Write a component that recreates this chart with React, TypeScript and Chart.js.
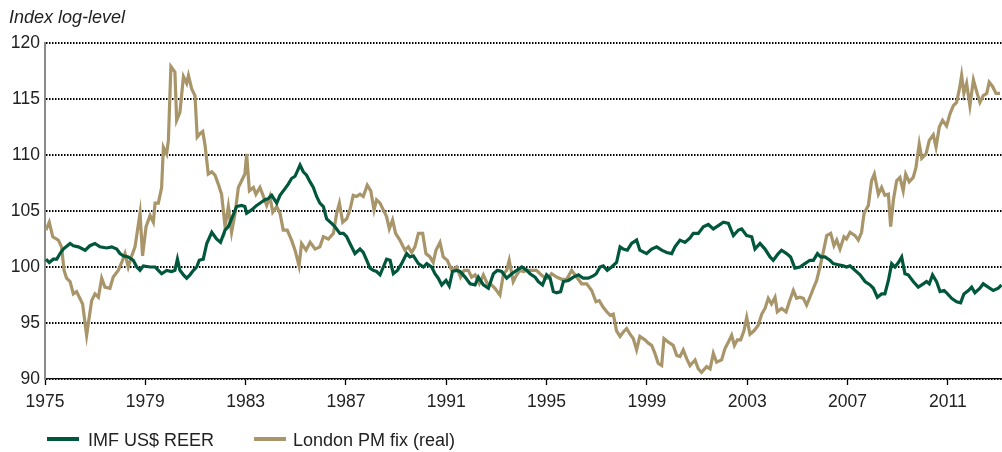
import React, { useEffect, useRef } from "react";
import { Chart, registerables } from "chart.js";

Chart.register(...registerables);

const X_TICKS = [1975, 1979, 1983, 1987, 1991, 1995, 1999, 2003, 2007, 2011];
const X_MIN = 1975;
const X_MAX = 2013.16;
const Y_MIN = 90;
const Y_MAX = 120;
const Y_STEP = 5;

const LABEL_REER = "IMF US$ REER";
const LABEL_GOLD = "London PM fix (real)";
const AXIS_TITLE = "Index log-level";

// [decimal year, index log-level]
const REER: [number, number][] = [
  [1975.04, 100.7], [1975.17, 100.4], [1975.33, 100.7], [1975.47, 100.7], [1975.6, 101.2], [1975.73, 101.6],
  [1976.0, 102.1], [1976.13, 101.9], [1976.33, 101.8], [1976.6, 101.5], [1976.79, 101.9], [1976.99, 102.1],
  [1977.19, 101.8], [1977.46, 101.7], [1977.66, 101.8], [1977.86, 101.6], [1977.99, 101.2], [1978.12, 101.0],
  [1978.32, 100.9], [1978.52, 100.6], [1978.66, 100.0], [1978.79, 99.7], [1978.92, 100.1], [1979.19, 100.0],
  [1979.39, 100.0], [1979.52, 99.7], [1979.65, 99.4], [1979.85, 99.7], [1980.05, 99.6], [1980.18, 99.7],
  [1980.28, 100.7], [1980.38, 99.7], [1980.52, 99.3], [1980.65, 99.0], [1980.78, 99.3], [1980.92, 99.7],
  [1981.05, 100.0], [1981.15, 100.6], [1981.31, 100.7], [1981.45, 102.1], [1981.65, 103.1], [1981.84, 102.5],
  [1982.0, 102.2], [1982.18, 103.3], [1982.31, 103.6], [1982.44, 104.3], [1982.64, 105.4], [1982.84, 105.5],
  [1982.97, 105.4], [1983.04, 104.8], [1983.24, 105.1], [1983.44, 105.5], [1983.64, 105.8], [1983.77, 106.0],
  [1983.9, 106.1], [1984.04, 106.4], [1984.24, 105.7], [1984.37, 106.4], [1984.57, 107.0], [1984.7, 107.4],
  [1984.83, 107.9], [1984.97, 108.1], [1985.17, 109.1], [1985.3, 108.5], [1985.43, 108.2], [1985.57, 107.6],
  [1985.7, 107.1], [1985.83, 106.3], [1985.96, 105.7], [1986.1, 105.4], [1986.23, 104.3], [1986.43, 103.9],
  [1986.56, 103.6], [1986.76, 103.0], [1986.9, 103.0], [1987.03, 102.7], [1987.16, 102.1], [1987.36, 101.2],
  [1987.56, 101.6], [1987.69, 101.3], [1987.83, 100.6], [1987.96, 99.9], [1988.09, 99.7], [1988.22, 99.6],
  [1988.36, 99.3], [1988.49, 100.0], [1988.62, 100.7], [1988.76, 100.6], [1988.89, 99.4], [1989.05, 99.7],
  [1989.22, 100.3], [1989.42, 101.2], [1989.55, 100.9], [1989.69, 101.0], [1989.89, 100.3], [1990.09, 100.0],
  [1990.22, 100.3], [1990.42, 100.0], [1990.55, 99.4], [1990.68, 99.0], [1990.82, 98.4], [1990.99, 98.8],
  [1991.12, 98.3], [1991.25, 99.6], [1991.41, 99.7], [1991.55, 99.6], [1991.75, 99.1], [1991.95, 98.5],
  [1992.15, 98.4], [1992.28, 99.1], [1992.48, 98.4], [1992.68, 98.1], [1992.88, 99.4], [1993.04, 99.7],
  [1993.21, 99.6], [1993.41, 99.0], [1993.61, 99.4], [1993.81, 99.7], [1994.01, 100.0], [1994.21, 99.7],
  [1994.34, 99.4], [1994.54, 99.1], [1994.67, 98.7], [1994.84, 98.4], [1995.0, 99.3], [1995.14, 99.0],
  [1995.27, 97.8], [1995.4, 97.7], [1995.56, 97.8], [1995.67, 98.7], [1995.87, 98.8], [1996.07, 99.1],
  [1996.27, 99.3], [1996.46, 99.0], [1996.66, 99.0], [1996.86, 99.2], [1996.98, 99.4], [1997.13, 100.0],
  [1997.26, 100.1], [1997.42, 99.7], [1997.59, 100.0], [1997.79, 100.4], [1997.93, 101.8], [1998.06, 101.6],
  [1998.22, 101.5], [1998.39, 102.1], [1998.59, 102.4], [1998.72, 101.5], [1998.99, 101.2], [1999.19, 101.6],
  [1999.39, 101.8], [1999.59, 101.5], [1999.79, 101.3], [1999.99, 101.2], [2000.12, 101.8], [2000.32, 102.4],
  [2000.52, 102.2], [2000.72, 102.6], [2000.85, 103.0], [2001.05, 103.0], [2001.25, 103.6], [2001.45, 103.8],
  [2001.65, 103.4], [2001.85, 103.7], [2002.05, 104.0], [2002.25, 103.9], [2002.45, 102.8], [2002.65, 103.3],
  [2002.78, 103.4], [2002.98, 102.8], [2003.18, 102.7], [2003.31, 101.6], [2003.51, 102.1], [2003.71, 101.6],
  [2003.91, 100.9], [2004.04, 100.6], [2004.24, 101.2], [2004.37, 101.5], [2004.57, 101.2], [2004.73, 100.9],
  [2004.9, 99.9], [2005.1, 100.0], [2005.3, 100.3], [2005.5, 100.6], [2005.64, 100.6], [2005.8, 101.2],
  [2005.93, 100.9], [2006.1, 100.9], [2006.3, 100.6], [2006.43, 100.3], [2006.63, 100.2], [2006.83, 100.1],
  [2006.96, 100.0], [2007.1, 100.1], [2007.3, 99.7], [2007.5, 99.3], [2007.7, 98.7], [2007.9, 98.4],
  [2008.03, 98.1], [2008.19, 97.3], [2008.36, 97.6], [2008.49, 97.6], [2008.63, 98.8], [2008.76, 100.3],
  [2008.89, 100.0], [2009.03, 100.4], [2009.16, 100.9], [2009.29, 99.4], [2009.42, 99.3], [2009.62, 98.7],
  [2009.82, 98.2], [2010.02, 98.5], [2010.15, 98.7], [2010.26, 98.5], [2010.39, 99.3], [2010.55, 98.7],
  [2010.69, 97.8], [2010.85, 97.9], [2010.95, 97.7], [2011.15, 97.2], [2011.35, 96.9], [2011.51, 96.8],
  [2011.64, 97.6], [2011.82, 97.9], [2011.95, 98.2], [2012.08, 97.7], [2012.28, 98.1], [2012.41, 98.5],
  [2012.61, 98.2], [2012.81, 97.9], [2013.01, 98.1], [2013.14, 98.4],
];

// [decimal year, index log-level]
const GOLD_REAL: [number, number][] = [
  [1975.04, 103.3], [1975.17, 104.0], [1975.31, 102.7], [1975.53, 102.4], [1975.66, 101.8], [1975.76, 99.7],
  [1975.86, 99.0], [1976.0, 98.7], [1976.13, 97.6], [1976.26, 97.8], [1976.5, 96.7], [1976.66, 93.9],
  [1976.86, 97.0], [1976.99, 97.6], [1977.13, 97.3], [1977.26, 99.0], [1977.39, 98.2], [1977.59, 98.1],
  [1977.72, 99.1], [1977.92, 99.7], [1978.06, 100.4], [1978.19, 101.2], [1978.32, 100.0], [1978.46, 101.0],
  [1978.59, 101.8], [1978.79, 104.8], [1978.89, 101.0], [1979.03, 103.6], [1979.19, 104.6], [1979.32, 104.0],
  [1979.39, 105.7], [1979.52, 105.7], [1979.65, 107.1], [1979.72, 110.7], [1979.85, 110.1], [1979.92, 111.3],
  [1980.02, 117.9], [1980.18, 117.4], [1980.25, 113.1], [1980.38, 113.8], [1980.52, 117.0], [1980.65, 116.4],
  [1980.72, 117.1], [1980.85, 115.9], [1980.98, 115.3], [1981.07, 111.6], [1981.18, 111.9], [1981.29, 112.1],
  [1981.38, 110.9], [1981.51, 108.3], [1981.65, 108.5], [1981.78, 108.2], [1981.91, 107.4], [1982.04, 106.5],
  [1982.18, 103.6], [1982.31, 105.4], [1982.44, 103.1], [1982.58, 104.8], [1982.71, 107.1], [1982.84, 107.7],
  [1982.97, 108.3], [1983.04, 110.1], [1983.15, 106.8], [1983.31, 107.1], [1983.41, 106.5], [1983.57, 107.1],
  [1983.71, 106.3], [1983.84, 105.5], [1983.97, 106.3], [1984.08, 104.9], [1984.24, 105.4], [1984.37, 104.8],
  [1984.5, 103.3], [1984.66, 103.3], [1984.83, 102.4], [1984.97, 101.5], [1985.13, 100.1], [1985.23, 102.1],
  [1985.41, 101.5], [1985.57, 102.2], [1985.77, 101.6], [1985.96, 101.8], [1986.1, 102.7], [1986.3, 102.5],
  [1986.5, 103.0], [1986.63, 104.8], [1986.74, 105.7], [1986.87, 104.0], [1987.03, 104.3], [1987.16, 105.1],
  [1987.29, 106.4], [1987.43, 106.3], [1987.56, 106.5], [1987.69, 106.3], [1987.85, 107.3], [1987.99, 106.8],
  [1988.12, 105.1], [1988.22, 106.0], [1988.36, 105.7], [1988.49, 105.1], [1988.62, 104.5], [1988.73, 103.4],
  [1988.86, 104.2], [1988.98, 103.0], [1989.15, 102.4], [1989.35, 101.5], [1989.49, 101.8], [1989.62, 101.3],
  [1989.75, 101.8], [1989.89, 103.0], [1990.06, 103.0], [1990.19, 101.2], [1990.35, 100.9], [1990.48, 100.4],
  [1990.59, 101.5], [1990.75, 102.2], [1990.88, 100.9], [1991.04, 100.6], [1991.22, 99.7], [1991.41, 100.0],
  [1991.57, 99.1], [1991.71, 99.7], [1991.88, 99.7], [1992.01, 99.1], [1992.15, 99.3], [1992.32, 98.5],
  [1992.48, 99.3], [1992.64, 98.5], [1992.81, 98.4], [1992.94, 98.1], [1993.14, 97.5], [1993.28, 99.4],
  [1993.41, 99.7], [1993.51, 100.6], [1993.67, 98.7], [1993.81, 99.3], [1993.94, 99.7], [1994.07, 99.6],
  [1994.21, 99.7], [1994.4, 99.7], [1994.6, 99.7], [1994.74, 99.4], [1994.94, 99.0], [1995.07, 99.0],
  [1995.2, 99.4], [1995.4, 99.1], [1995.6, 98.9], [1995.8, 98.9], [1996.0, 99.7], [1996.2, 99.1],
  [1996.4, 98.5], [1996.6, 98.5], [1996.8, 97.9], [1996.97, 96.9], [1997.1, 97.0], [1997.26, 96.4],
  [1997.4, 96.0], [1997.53, 95.7], [1997.66, 95.8], [1997.79, 94.3], [1997.93, 93.8], [1998.06, 94.2],
  [1998.19, 94.5], [1998.33, 94.0], [1998.46, 93.6], [1998.59, 92.6], [1998.72, 93.8], [1998.92, 93.5],
  [1999.06, 93.2], [1999.19, 93.0], [1999.32, 92.3], [1999.45, 91.4], [1999.59, 91.2], [1999.68, 93.6],
  [1999.85, 93.3], [2000.05, 93.0], [2000.19, 92.1], [2000.32, 92.0], [2000.45, 92.6], [2000.59, 91.8],
  [2000.72, 91.2], [2000.92, 91.7], [2001.05, 90.9], [2001.18, 90.6], [2001.38, 91.1], [2001.52, 90.9],
  [2001.65, 92.3], [2001.78, 91.5], [2001.98, 91.7], [2002.11, 92.7], [2002.25, 93.3], [2002.38, 93.9],
  [2002.49, 93.0], [2002.61, 93.5], [2002.74, 93.5], [2002.87, 94.3], [2002.98, 95.5], [2003.11, 94.0],
  [2003.27, 94.3], [2003.44, 94.8], [2003.58, 95.8], [2003.71, 96.3], [2003.84, 97.2], [2003.97, 96.7],
  [2004.11, 97.3], [2004.2, 96.0], [2004.37, 96.3], [2004.55, 96.0], [2004.68, 96.9], [2004.84, 97.9],
  [2004.97, 97.2], [2005.1, 97.3], [2005.24, 97.2], [2005.37, 96.6], [2005.5, 97.3], [2005.64, 98.1],
  [2005.77, 98.8], [2005.9, 100.0], [2006.03, 101.3], [2006.17, 102.8], [2006.33, 103.0], [2006.46, 101.9],
  [2006.57, 102.4], [2006.7, 101.6], [2006.86, 102.7], [2006.96, 102.5], [2007.1, 103.1], [2007.3, 102.8],
  [2007.43, 102.4], [2007.56, 103.1], [2007.66, 104.8], [2007.83, 105.5], [2007.96, 107.7], [2008.07, 108.3],
  [2008.23, 106.5], [2008.36, 107.1], [2008.49, 106.4], [2008.63, 106.5], [2008.72, 103.6], [2008.83, 106.0],
  [2008.96, 107.7], [2009.09, 108.0], [2009.22, 106.8], [2009.32, 108.3], [2009.46, 107.6], [2009.62, 108.0],
  [2009.73, 108.9], [2009.86, 111.0], [2009.96, 109.7], [2010.13, 110.1], [2010.26, 111.3], [2010.42, 111.8],
  [2010.53, 110.7], [2010.66, 112.5], [2010.79, 113.1], [2010.95, 112.6], [2011.09, 113.7], [2011.22, 114.4],
  [2011.35, 114.7], [2011.48, 116.1], [2011.55, 117.1], [2011.64, 115.5], [2011.75, 116.4], [2011.88, 114.4],
  [2012.02, 116.7], [2012.17, 115.5], [2012.28, 114.7], [2012.41, 115.3], [2012.55, 115.5], [2012.65, 116.5],
  [2012.79, 116.1], [2012.92, 115.5], [2013.08, 115.5],
];

const GREEN = "#00573c";
const TAN = "#a8956a";
const TEXT = "#222222";
const FONT = "'Liberation Sans', Arial, sans-serif";

export default function App() {
  const ref = useRef<HTMLCanvasElement | null>(null);

  useEffect(() => {
    if (!ref.current) return;
    const chart = new Chart(ref.current, {
      type: "line",
      data: {
        datasets: [
          {
            label: LABEL_REER,
            data: REER.map(([x, y]) => ({ x, y })),
            borderColor: GREEN,
            backgroundColor: GREEN,
            borderWidth: 3.2,
            pointRadius: 0,
            tension: 0,
          },
          {
            label: LABEL_GOLD,
            data: GOLD_REAL.map(([x, y]) => ({ x, y })),
            borderColor: TAN,
            backgroundColor: TAN,
            borderWidth: 3.2,
            pointRadius: 0,
            tension: 0,
          },
        ],
      },
      options: {
        animation: false,
        responsive: false,
        layout: { padding: { top: 43, right: 0, bottom: 0, left: 0 } },
        plugins: { legend: { display: false }, tooltip: { enabled: false }, title: { display: false } },
        scales: {
          x: {
            type: "linear",
            min: X_MIN,
            max: X_MAX,
            afterBuildTicks: (s: any) => {
              s.ticks = X_TICKS.map((v) => ({ value: v }));
            },
            afterFit: (s: any) => {
              s.height = 73;
            },
            ticks: {
              autoSkip: false,
              maxRotation: 0,
              padding: 7,
              color: TEXT,
              font: { family: FONT, size: 17.5 },
              callback: (v: any) => String(v),
            },
            grid: {
              drawOnChartArea: false,
              drawTicks: true,
              tickLength: 6,
              tickColor: "#000",
              tickWidth: 1.3,
              color: "#000",
            },
            border: { display: true, color: "#111", width: 1.3 },
          },
          y: {
            min: Y_MIN,
            max: Y_MAX,
            afterFit: (s: any) => {
              s.width = 45;
            },
            ticks: {
              stepSize: Y_STEP,
              padding: 5,
              color: TEXT,
              font: { family: FONT, size: 17.5 },
            },
            grid: { drawTicks: false, color: "#000", lineWidth: 2 },
            border: { display: true, color: "#8a8a8a", width: 2, dash: [1.5, 1.5] },
          },
        },
      },
    });
    return () => chart.destroy();
  }, []);

  return (
    <div style={{ position: "fixed", left: 0, top: 0, width: 1002, height: 452, background: "#fff", fontFamily: FONT }}>
      <canvas ref={ref} width={1002} height={452} style={{ position: "absolute", left: 0, top: 0 }} />
      <div style={{ position: "absolute", left: 9, top: 8, fontSize: 18, lineHeight: "18px", fontStyle: "italic", color: TEXT, whiteSpace: "nowrap" }}>
        {AXIS_TITLE}
      </div>
      <div style={{ position: "absolute", left: 47, top: 437, width: 32, height: 4, background: GREEN }} />
      <div style={{ position: "absolute", left: 88, top: 431, fontSize: 18, lineHeight: "18px", color: TEXT, whiteSpace: "nowrap" }}>
        {LABEL_REER}
      </div>
      <div style={{ position: "absolute", left: 254, top: 437, width: 32, height: 4, background: TAN }} />
      <div style={{ position: "absolute", left: 293, top: 431, fontSize: 18, lineHeight: "18px", color: TEXT, whiteSpace: "nowrap" }}>
        {LABEL_GOLD}
      </div>
    </div>
  );
}
